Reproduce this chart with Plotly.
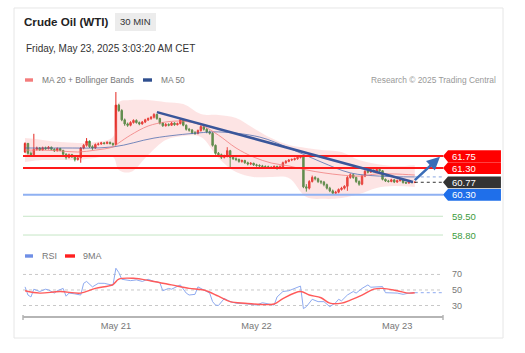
import plotly.graph_objects as go
import pandas as pd

# ---------------- data ----------------
START = "2025-05-20 08:30"          # first 30-min candle
FIRST_OPEN = 61.90
close = [62.22,61.85,61.80,62.00,62.05,61.98,62.06,62.02,62.08,62.00,
         61.95,62.03,61.96,61.82,61.70,61.80,61.72,61.62,61.68,62.05,
         62.15,62.30,62.10,62.05,62.18,62.20,62.24,62.22,62.26,62.22,
         62.18,63.65,63.45,63.10,62.95,62.90,63.00,63.08,63.00,62.95,
         63.02,63.10,63.15,63.20,63.30,63.15,62.98,62.88,62.93,62.90,
         62.98,62.92,62.96,63.10,62.90,62.75,62.72,62.62,62.60,62.70,
         62.85,62.75,62.65,62.60,62.15,61.85,61.80,61.70,61.75,61.95,
         61.70,61.65,61.62,61.55,61.58,61.50,61.45,61.48,61.42,61.40,
         61.38,61.36,61.35,61.33,61.32,61.36,61.30,61.35,61.50,61.55,
         61.60,61.62,61.65,61.70,61.72,60.60,60.55,60.80,60.95,60.90,
         60.80,60.78,60.68,60.55,60.45,60.36,60.40,60.50,60.55,60.62,
         60.95,61.05,60.95,60.80,60.70,61.00,61.18,61.15,61.22,61.18,
         61.25,61.20,60.88,60.82,60.80,60.86,60.78,60.83,60.86,60.76,
         60.74,60.78,60.76,60.77]
high = [62.26,62.24,61.92,62.58,62.10,62.08,62.10,62.10,62.12,62.10,
        62.04,62.07,62.06,61.98,61.85,61.84,61.83,61.75,61.72,62.08,
        62.20,62.42,62.33,62.15,62.22,62.25,62.28,62.27,62.30,62.29,
        62.25,64.14,63.70,63.50,63.15,63.00,63.05,63.12,63.12,63.04,
        63.06,63.14,63.19,63.24,63.35,63.33,63.18,63.02,62.98,62.97,
        63.02,63.01,63.00,63.14,63.12,62.93,62.80,62.76,62.68,62.74,
        62.90,62.88,62.79,62.70,62.64,62.18,61.90,61.84,61.80,62.08,
        61.98,61.75,61.70,61.66,61.62,61.61,61.54,61.52,61.50,61.46,
        61.44,61.42,61.40,61.39,61.37,61.40,61.39,61.40,61.54,61.60,
        61.64,61.66,61.69,61.74,61.78,61.75,60.70,60.85,61.02,61.00,
        60.94,60.85,60.82,60.72,60.60,60.50,60.45,60.54,60.60,60.66,
        61.00,61.10,61.08,60.98,60.84,61.05,61.22,61.22,61.26,61.25,
        61.30,61.28,61.22,60.91,60.86,60.90,60.88,60.87,60.89,60.88,
        60.79,60.81,60.80,60.80]
low = [61.86,61.80,61.74,61.78,61.95,61.94,61.95,61.98,62.00,61.96,
       61.90,61.92,61.93,61.78,61.62,61.66,61.68,61.55,61.58,61.50,
       62.00,62.10,62.05,61.98,62.02,62.14,62.17,62.18,62.19,62.18,
       62.12,62.15,63.40,63.05,62.88,62.84,62.86,62.96,62.96,62.90,
       62.92,62.98,63.06,63.10,63.15,63.10,62.93,62.84,62.85,62.86,
       62.87,62.88,62.89,62.93,62.86,62.70,62.66,62.57,62.54,62.56,
       62.66,62.70,62.60,62.55,62.10,61.80,61.72,61.64,61.66,61.70,
       61.30,61.60,61.56,61.50,61.50,61.46,61.40,61.41,61.38,61.35,
       61.33,61.31,61.30,61.28,61.27,61.28,61.24,61.26,61.32,61.46,
       61.52,61.56,61.58,61.61,61.66,60.55,60.42,60.50,60.76,60.84,
       60.74,60.70,60.62,60.50,60.40,60.30,60.31,60.36,60.46,60.50,
       60.45,60.90,60.90,60.74,60.64,60.66,60.96,61.10,61.12,61.14,
       61.15,61.16,60.84,60.78,60.76,60.77,60.74,60.75,60.80,60.72,
       60.71,60.72,60.73,60.74]
open_ = [FIRST_OPEN] + close[:-1]

# MA20 + Bollinger bands (read at candle indices)
MA20_IDX = [0,6,12,18,24,30,32,36,42,48,54,60,66,72,78,84,90,96,102,108,114,120,126,133]
MA20  = [61.97,61.97,61.94,61.90,61.97,62.09,62.24,62.53,62.87,63.02,63.05,62.91,62.53,62.05,61.71,61.49,61.38,61.23,61.12,61.04,61.00,61.08,61.08,61.04]
BB_UP = [62.42,62.35,62.27,62.24,62.27,62.46,63.76,63.84,63.84,63.76,63.69,63.32,63.28,63.17,62.79,62.42,62.16,62.05,61.97,61.90,61.60,61.45,61.38,61.41]
BB_LO = [61.53,61.60,61.60,61.60,61.68,61.71,61.23,61.15,61.79,62.35,62.50,62.46,61.68,61.15,60.97,60.97,60.93,60.22,60.15,60.18,60.33,60.56,60.63,60.59]

# MA50
MA50_IDX = [0,12,30,44,59,66,80,90,101,111,121,133]
MA50 = [62.05,62.05,62.09,62.42,62.61,62.65,62.46,62.05,61.53,61.12,61.00,60.97]

# RSI and its 9MA
RSI_IDX = [0,1,2,3,5,7,8,10,11,13,14,15,17,19,20,21,23,25,27,28,30,31,32,33,36,38,40,42,44,46,
           47,49,50,53,55,56,58,59,61,63,64,65,66,68,70,72,76,79,81,85,86,88,90,93,94,95,96,98,100,102,
           104,106,107,108,110,112,113,115,117,118,120,122,123,125,127,129,131,133]
RSI = [54,43.5,41,51,48,51,50,46,49,52,42,46,45,43.5,58.6,61,54,58.6,58.6,57.7,56,78,72.4,63.8,62,63,61,63.8,61,59.5,
       49,52,51,56.5,46,43.5,44.4,54,50,46,35,30.6,30,39,35,33,32,30.6,33.6,30.6,41,48,49,54,55,26,28.5,38,35,35,
       28.5,33.6,38,36,43.5,48,46,52,56.5,53.5,54.4,54.4,46.5,46,46,44.4,46,46.5]
MA9_IDX = [0,5,12,19,24,30,32,37,43,50,56,61,66,70,75,85,88,94,97,101,104,108,111,115,119,122,127,131,133]
MA9 = [49,46,48,46,52,57,64,65,61.6,56.5,52,50,42,35,33,32,39,48,43.5,40,33,33,37,43.5,51,52,49,46,46.5]

# key levels
RESIST = [61.75, 61.30]
SUPPORT = [60.30, 59.50, 58.80]
LAST_PRICE = 60.77
RSI_LEVELS = [70, 50, 30]

# drawn trend line and arrow (time, price)
TREND = ("2025-05-21 07:00", 63.39, "2025-05-23 02:42", 60.78)
ARROW = ("2025-05-23 02:45", 60.80, "2025-05-23 07:18", 61.72)

X_RANGE = ["2025-05-20 08:09", "2025-05-23 07:49"]
TICK_VALS = ["2025-05-21", "2025-05-22", "2025-05-23"]
TICK_TEXT = ["May 21", "May 22", "May 23"]

times = pd.date_range(START, periods=len(close), freq="30min")
def at(idx):
    return [times[i] for i in idx]

# ---------------- figure ----------------
FONT = "Liberation Sans, Arial, sans-serif"
fig = go.Figure()

# Bollinger band
fig.add_trace(go.Scatter(x=at(MA20_IDX), y=BB_LO, mode="lines", line=dict(width=0, shape="spline"),
                         hoverinfo="skip", yaxis="y"))
fig.add_trace(go.Scatter(x=at(MA20_IDX), y=BB_UP, mode="lines", line=dict(width=0, shape="spline"),
                         fill="tonexty", fillcolor="rgba(248,150,150,0.26)", hoverinfo="skip", yaxis="y"))
# MA50
fig.add_trace(go.Scatter(x=at(MA50_IDX), y=MA50, mode="lines",
                         line=dict(color="rgba(60,95,170,0.7)", width=1, shape="spline"), yaxis="y"))
# MA20
fig.add_trace(go.Scatter(x=at(MA20_IDX), y=MA20, mode="lines",
                         line=dict(color="rgba(240,120,120,0.75)", width=1, shape="spline"), yaxis="y"))
# candles
fig.add_trace(go.Candlestick(x=times, open=open_, high=high, low=low, close=close,
                             increasing=dict(line=dict(color="#e3261f", width=1), fillcolor="#e3261f"),
                             decreasing=dict(line=dict(color="#2f8a35", width=1), fillcolor="#2f8a35"),
                             whiskerwidth=0, yaxis="y"))
# dotted extensions
fig.add_trace(go.Scatter(x=[times[-1], X_RANGE[1]], y=[MA50[-1], MA50[-1]], mode="lines",
                         line=dict(color="#8aa6e0", width=1, dash="dot"), yaxis="y"))
fig.add_trace(go.Scatter(x=[times[-1], X_RANGE[1]], y=[LAST_PRICE, LAST_PRICE], mode="lines",
                         line=dict(color="#333333", width=1, dash="dot"), yaxis="y"))

# RSI panel
fig.add_trace(go.Scatter(x=at(RSI_IDX), y=RSI, mode="lines",
                         line=dict(color="#8eaaf0", width=1), yaxis="y2"))
fig.add_trace(go.Scatter(x=at(MA9_IDX), y=MA9, mode="lines",
                         line=dict(color="#ff5a5a", width=1.4, shape="spline"), yaxis="y2"))
fig.add_trace(go.Scatter(x=[times[-1], X_RANGE[1]], y=[RSI[-1], RSI[-1]], mode="lines",
                         line=dict(color="#8eaaf0", width=1, dash="dot"), yaxis="y2"))

shapes = []
annotations = []

# card border
shapes.append(dict(type="rect", xref="paper", yref="paper", x0=-0.0214, x1=1.1429, y0=-0.0965, y1=1.3509,
                   line=dict(color="#e6e6e6", width=1), fillcolor="rgba(0,0,0,0)", layer="below"))
# badge
shapes.append(dict(type="rect", xref="paper", yref="paper", x0=0.219, x1=0.3167, y0=1.25, y1=1.329,
                   line=dict(width=0), fillcolor="#ececec", layer="below"))

# level lines
for lv in RESIST:
    shapes.append(dict(type="line", xref="paper", yref="y", x0=0, x1=1, y0=lv, y1=lv,
                       line=dict(color="#ff1a1a", width=2)))
shapes.append(dict(type="line", xref="paper", yref="y", x0=0, x1=1, y0=SUPPORT[0], y1=SUPPORT[0],
                   line=dict(color="#8fb1f2", width=2)))
for lv in SUPPORT[1:]:
    shapes.append(dict(type="line", xref="paper", yref="y", x0=0, x1=1, y0=lv, y1=lv,
                       line=dict(color="#c6e6c6", width=1)))

# trend line
shapes.append(dict(type="line", xref="x", yref="y", x0=TREND[0], y0=TREND[1], x1=TREND[2], y1=TREND[3],
                   line=dict(color="#3a569a", width=2.5)))

# label boxes (arrow shaped)
H = 0.22
def box(p, color):
    path = (f"M 1.0,{p} L 1.0119,{p+H} L 1.138,{p+H} L 1.138,{p-H} L 1.0119,{p-H} Z")
    return dict(type="path", xref="paper", yref="y", path=path, fillcolor=color, line=dict(width=0))
box_items = [(RESIST[0], "#ff0000"), (RESIST[1], "#ff0000"), (LAST_PRICE, "#333333"), (SUPPORT[0], "#1f6fea")]
for p, c in box_items:
    shapes.append(box(p, c))
    annotations.append(dict(xref="paper", yref="y", x=1.0167, y=p, text=f"{p:.2f}", showarrow=False,
                            xanchor="left", yanchor="middle", font=dict(color="white", size=9.5, family=FONT)))
for p in SUPPORT[1:]:
    annotations.append(dict(xref="paper", yref="y", x=1.0167, y=p, text=f"{p:.2f}", showarrow=False,
                            xanchor="left", yanchor="middle", font=dict(color="#3c9b3c", size=9.5, family=FONT)))

# RSI grid + labels
for lv in RSI_LEVELS:
    shapes.append(dict(type="line", xref="paper", yref="y2", x0=0, x1=1, y0=lv, y1=lv,
                       line=dict(color="#c8c8c8", width=1, dash="dot"), layer="below"))
    annotations.append(dict(xref="paper", yref="y2", x=1.0167, y=lv, text=str(lv), showarrow=False,
                            xanchor="left", yanchor="middle", font=dict(color="#777", size=9, family=FONT)))

# end ticks of x axis
for xp in (0, 1):
    shapes.append(dict(type="line", xref="paper", yref="paper", x0=xp, x1=xp, y0=0.004, y1=-0.018,
                       line=dict(color="#b5b5b5", width=1.5)))

# arrow
annotations.append(dict(xref="x", yref="y", axref="x", ayref="y", x=ARROW[2], y=ARROW[3],
                        ax=ARROW[0], ay=ARROW[1], showarrow=True, arrowhead=2, arrowsize=1,
                        arrowwidth=2.6, arrowcolor="#3a6db8", text=""))

# header texts
def txt(x, y, s, size, color, anchor="left", bold=False):
    annotations.append(dict(xref="paper", yref="paper", x=x, y=y, text=(f"<b>{s}</b>" if bold else s),
                            showarrow=False, xanchor=anchor, yanchor="middle",
                            font=dict(size=size, color=color, family=FONT)))
txt(-0.003, 1.2895, "Crude Oil (WTI)", 11.6, "#222222", bold=True)
txt(0.268, 1.2895, "30 MIN", 9.5, "#333333", anchor="center")
txt(0.002, 1.1754, "Friday, May 23, 2025 3:03:20 AM CET", 10, "#333333")
txt(0.040, 1.0351, "MA 20 + Bollinger Bands", 8.4, "#777777")
txt(0.323, 1.0351, "MA 50", 8.4, "#777777")
txt(1.131, 1.0351, "Research © 2025 Trading Central", 8.4, "#999999", anchor="right")
txt(0.040, 0.2632, "RSI", 9, "#777777")
txt(0.138, 0.2632, "9MA", 9, "#777777")

# legend swatches
def sw(x0, x1, y, color):
    shapes.append(dict(type="rect", xref="paper", yref="paper", x0=x0, x1=x1, y0=y - 0.0075, y1=y + 0.0075,
                       fillcolor=color, line=dict(width=0)))
sw(0.0048, 0.0238, 1.0351, "#f47c7c")
sw(0.2857, 0.3071, 1.0351, "#2f4f8f")
sw(0.0048, 0.0238, 0.2632, "#6f8fe6")
sw(0.1000, 0.1238, 0.2632, "#ff2020")

fig.update_layout(
    width=525, height=353,
    margin=dict(l=23, r=82, t=88, b=37),
    paper_bgcolor="white", plot_bgcolor="white",
    showlegend=False,
    font=dict(family=FONT),
    shapes=shapes, annotations=annotations,
    xaxis=dict(type="date", range=X_RANGE, anchor="y2", showgrid=False, zeroline=False,
               showline=True, linecolor="#b5b5b5", linewidth=2,
               tickvals=TICK_VALS, ticktext=TICK_TEXT, tickfont=dict(size=9.3, color="#777"),
               ticks="", rangeslider=dict(visible=False), fixedrange=True),
    yaxis=dict(domain=[0.3246, 1], range=[58.54, 64.29], showgrid=False, zeroline=False,
               showticklabels=False, showline=False),
    yaxis2=dict(domain=[0, 0.2368], range=[16.5, 86], showgrid=False, zeroline=False,
                showticklabels=False, showline=False),
)

fig.write_html("out.html")
